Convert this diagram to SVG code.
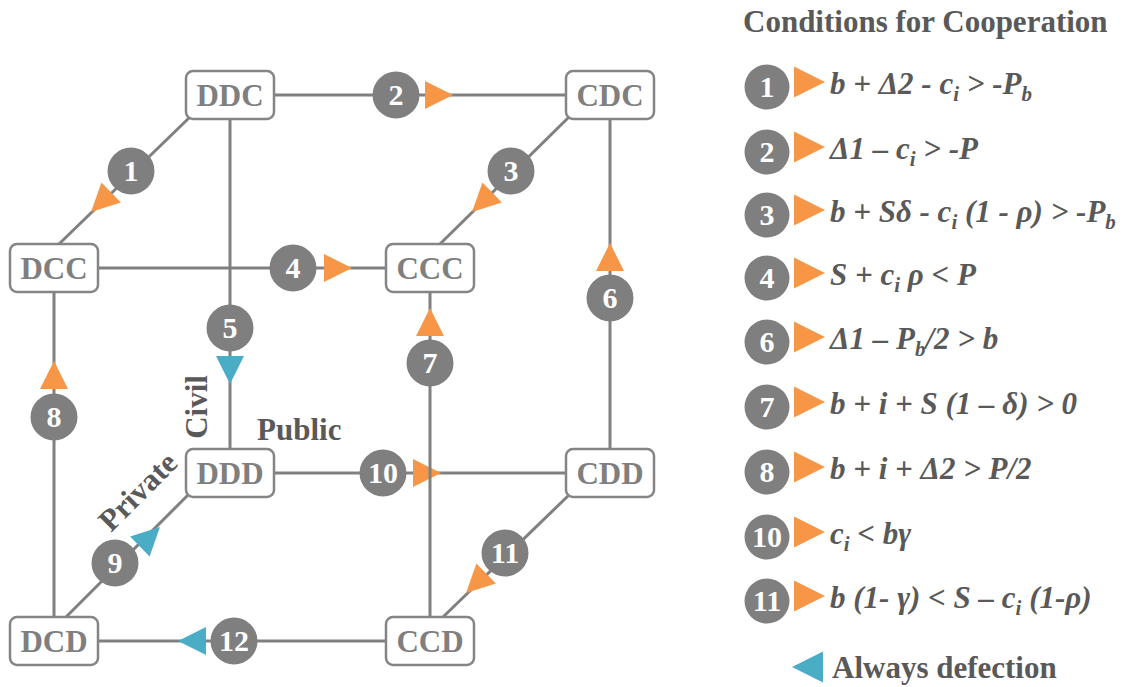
<svg xmlns="http://www.w3.org/2000/svg" xmlns:xlink="http://www.w3.org/1999/xlink" width="1126" height="687" viewBox="0 0 1126 687">
<style>
.ln{stroke:#808080;stroke-width:3;fill:none}
.nd{fill:#fff;stroke:#858585;stroke-width:2.5}
.nt{font-family:"Liberation Serif",serif;font-weight:bold;font-size:31px;fill:#7f7f7f;text-anchor:middle}
.bc{fill:#7f7f7f}
.bt{font-family:"Liberation Serif",serif;font-weight:bold;font-size:30px;fill:#fff;text-anchor:middle}
.or{fill:#F79646}
.bl{fill:#4BACC6}
.lb{font-family:"Liberation Serif",serif;font-weight:bold;font-size:31px;fill:#595959}
.fm{font-family:"Liberation Serif",serif;font-weight:bold;font-style:italic;font-size:31px;fill:#595959}
.sb{font-size:21px}
</style>
<defs>
<path id="tri" d="M0,0 L-28,-14 L-28,14 Z"/>
<path id="ltri" d="M0,0 L-31,-15.5 L-31,15.5 Z"/>
</defs>

<g id="connectors">
<g id="e2"><line class="ln" x1="274" y1="95" x2="566" y2="95"/><use xlink:href="#tri" class="or" transform="translate(453,95)"/></g>
<g id="e1"><line class="ln" x1="190" y1="117" x2="59" y2="244"/><use xlink:href="#tri" class="or" transform="translate(91,212) rotate(136)"/></g>
<g id="e5"><line class="ln" x1="230" y1="119" x2="230" y2="449"/><use xlink:href="#tri" class="bl" transform="translate(230,384) rotate(90)"/></g>
<g id="e4"><line class="ln" x1="98" y1="268" x2="386" y2="268"/><use xlink:href="#tri" class="or" transform="translate(352,268)"/></g>
<g id="e3"><line class="ln" x1="569" y1="117" x2="440" y2="244"/><use xlink:href="#tri" class="or" transform="translate(472,212) rotate(136)"/></g>
<g id="e6"><line class="ln" x1="610" y1="119" x2="610" y2="449"/><use xlink:href="#tri" class="or" transform="translate(610,243) rotate(-90)"/></g>
<g id="e8"><line class="ln" x1="54" y1="292" x2="54" y2="617"/><use xlink:href="#tri" class="or" transform="translate(54,361) rotate(-90)"/></g>
<g id="e10"><line class="ln" x1="273" y1="473" x2="567" y2="473"/><use xlink:href="#tri" class="or" transform="translate(441,473)"/></g>
<g id="e7"><line class="ln" x1="430" y1="292" x2="430" y2="617"/><use xlink:href="#tri" class="or" transform="translate(430,308) rotate(-90)"/></g>
<g id="e9"><line class="ln" x1="189" y1="494" x2="65" y2="618"/><use xlink:href="#tri" class="bl" transform="translate(160,527) rotate(-44)"/></g>
<g id="e11"><line class="ln" x1="569" y1="495" x2="443" y2="617"/><use xlink:href="#tri" class="or" transform="translate(466,593) rotate(136)"/></g>
<g id="e12"><line class="ln" x1="97" y1="641" x2="386" y2="641"/><use xlink:href="#tri" class="bl" transform="translate(178,641) rotate(180)"/></g>
</g>

<g id="badges">
<g id="b1"><circle class="bc" cx="131" cy="171" r="23.5"/><text class="bt" x="131" y="181">1</text></g>
<g id="b2"><circle class="bc" cx="396" cy="95" r="23.5"/><text class="bt" x="396" y="105">2</text></g>
<g id="b3"><circle class="bc" cx="511" cy="171" r="23.5"/><text class="bt" x="511" y="181">3</text></g>
<g id="b4"><circle class="bc" cx="293" cy="268" r="23.5"/><text class="bt" x="293" y="278">4</text></g>
<g id="b5"><circle class="bc" cx="230" cy="328" r="23.5"/><text class="bt" x="230" y="338">5</text></g>
<g id="b6"><circle class="bc" cx="610" cy="298" r="23.5"/><text class="bt" x="610" y="308">6</text></g>
<g id="b7"><circle class="bc" cx="430" cy="363" r="23.5"/><text class="bt" x="430" y="373">7</text></g>
<g id="b8"><circle class="bc" cx="54" cy="417" r="23.5"/><text class="bt" x="54" y="427">8</text></g>
<g id="b9"><circle class="bc" cx="115" cy="563" r="23.5"/><text class="bt" x="115" y="573">9</text></g>
<g id="b10"><circle class="bc" cx="383" cy="473" r="23.5"/><text class="bt" x="383" y="483">10</text></g>
<g id="b11"><circle class="bc" cx="505" cy="553" r="23.5"/><text class="bt" x="505" y="563">11</text></g>
<g id="b12"><circle class="bc" cx="234" cy="641" r="23.5"/><text class="bt" x="234" y="651">12</text></g>
</g>

<g id="DDC"><rect class="nd" x="186" y="71" width="88" height="48" rx="7"/><text class="nt" x="230" y="106">DDC</text></g>
<g id="CDC"><rect class="nd" x="566" y="71" width="88" height="48" rx="7"/><text class="nt" x="610" y="106">CDC</text></g>
<g id="DCC"><rect class="nd" x="10" y="244" width="88" height="48" rx="7"/><text class="nt" x="54" y="279">DCC</text></g>
<g id="CCC"><rect class="nd" x="386" y="244" width="88" height="48" rx="7"/><text class="nt" x="430" y="279">CCC</text></g>
<g id="DDD"><rect class="nd" x="186" y="449" width="88" height="48" rx="7"/><text class="nt" x="230" y="484">DDD</text></g>
<g id="CDD"><rect class="nd" x="566" y="449" width="88" height="48" rx="7"/><text class="nt" x="610" y="484">CDD</text></g>
<g id="DCD"><rect class="nd" x="10" y="617" width="88" height="48" rx="7"/><text class="nt" x="54" y="652">DCD</text></g>
<g id="CCD"><rect class="nd" x="386" y="617" width="88" height="48" rx="7"/><text class="nt" x="430" y="652">CCD</text></g>

<g id="axis-labels">
<text class="lb" transform="translate(207,407) rotate(-90)" text-anchor="middle">Civil</text>
<text class="lb" x="257" y="440">Public</text>
<text class="lb" transform="translate(111,533) rotate(-45)">Private</text>
</g>

<g id="legend">
<text class="lb" x="743" y="32">Conditions for Cooperation</text>
<g id="l1"><circle class="bc" cx="767" cy="87" r="22.5"/><text class="bt" x="767" y="97">1</text><use xlink:href="#ltri" class="or" transform="translate(825,82)"/><text class="fm" x="830" y="94">b + Δ2 - c<tspan class="sb" dy="7">i</tspan><tspan dy="-7"> &gt; -P</tspan><tspan class="sb" dy="7">b</tspan></text></g>
<g id="l2"><circle class="bc" cx="767" cy="152" r="22.5"/><text class="bt" x="767" y="162">2</text><use xlink:href="#ltri" class="or" transform="translate(825,147)"/><text class="fm" x="830" y="159">Δ1 – c<tspan class="sb" dy="7">i</tspan><tspan dy="-7"> &gt; -P</tspan></text></g>
<g id="l3"><circle class="bc" cx="767" cy="215" r="22.5"/><text class="bt" x="767" y="225">3</text><use xlink:href="#ltri" class="or" transform="translate(825,210)"/><text class="fm" x="830" y="222">b + Sδ - c<tspan class="sb" dy="7">i</tspan><tspan dy="-7"> (1 - ρ) &gt; -P</tspan><tspan class="sb" dy="7">b</tspan></text></g>
<g id="l4"><circle class="bc" cx="767" cy="278" r="22.5"/><text class="bt" x="767" y="288">4</text><use xlink:href="#ltri" class="or" transform="translate(825,273)"/><text class="fm" x="830" y="285">S + c<tspan class="sb" dy="7">i</tspan><tspan dy="-7"> ρ &lt; P</tspan></text></g>
<g id="l6"><circle class="bc" cx="767" cy="342" r="22.5"/><text class="bt" x="767" y="352">6</text><use xlink:href="#ltri" class="or" transform="translate(825,337)"/><text class="fm" x="830" y="349">Δ1 – P<tspan class="sb" dy="7">b</tspan><tspan dy="-7">/2 &gt; b</tspan></text></g>
<g id="l7"><circle class="bc" cx="767" cy="407" r="22.5"/><text class="bt" x="767" y="417">7</text><use xlink:href="#ltri" class="or" transform="translate(825,402)"/><text class="fm" x="830" y="414">b + i + S (1 – δ) &gt; 0</text></g>
<g id="l8"><circle class="bc" cx="767" cy="472" r="22.5"/><text class="bt" x="767" y="482">8</text><use xlink:href="#ltri" class="or" transform="translate(825,467)"/><text class="fm" x="830" y="479">b + i + Δ2 &gt; P/2</text></g>
<g id="l10"><circle class="bc" cx="767" cy="537" r="22.5"/><text class="bt" x="767" y="547">10</text><use xlink:href="#ltri" class="or" transform="translate(825,532)"/><text class="fm" x="830" y="544">c<tspan class="sb" dy="7">i</tspan><tspan dy="-7"> &lt; bγ</tspan></text></g>
<g id="l11"><circle class="bc" cx="767" cy="601" r="22.5"/><text class="bt" x="767" y="611">11</text><use xlink:href="#ltri" class="or" transform="translate(825,596)"/><text class="fm" x="830" y="608">b (1- γ) &lt; S – c<tspan class="sb" dy="7">i</tspan><tspan dy="-7"> (1-ρ)</tspan></text></g>
<g id="ldef"><use xlink:href="#ltri" class="bl" transform="translate(792,667) rotate(180)"/><text class="lb" x="832" y="678">Always defection</text></g>
</g>
</svg>
